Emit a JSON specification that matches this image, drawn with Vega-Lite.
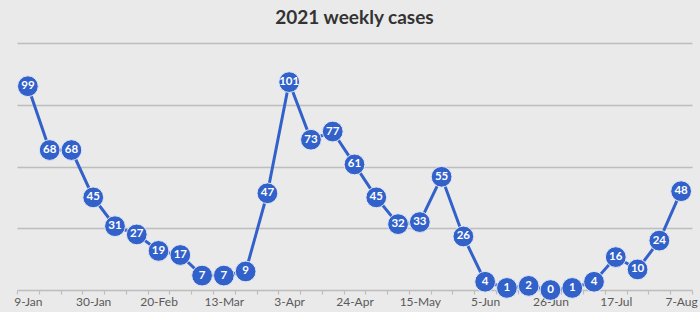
{
  "$schema": "https://vega.github.io/schema/vega-lite/v6.json",
  "width": 675,
  "height": 247,
  "autosize": {"type": "none"},
  "padding": {"left": 17, "top": 43, "right": 8, "bottom": 22},
  "background": "#eaeaea",
  "title": {
    "text": "2021 weekly cases",
    "anchor": "middle",
    "font": "Lato",
    "fontSize": 19,
    "fontWeight": "bold",
    "color": "#333333",
    "offset": 15
  },
  "config": {
    "view": {"stroke": null},
    "axis": {"labelFont": "Lato", "labelColor": "#595959", "labelFontSize": 12}
  },
  "data": {
    "values": [
      {"week": "9-Jan", "cases": 99},
      {"week": "16-Jan", "cases": 68},
      {"week": "23-Jan", "cases": 68},
      {"week": "30-Jan", "cases": 45},
      {"week": "6-Feb", "cases": 31},
      {"week": "13-Feb", "cases": 27},
      {"week": "20-Feb", "cases": 19},
      {"week": "27-Feb", "cases": 17},
      {"week": "6-Mar", "cases": 7},
      {"week": "13-Mar", "cases": 7},
      {"week": "20-Mar", "cases": 9},
      {"week": "27-Mar", "cases": 47},
      {"week": "3-Apr", "cases": 101},
      {"week": "10-Apr", "cases": 73},
      {"week": "17-Apr", "cases": 77},
      {"week": "24-Apr", "cases": 61},
      {"week": "1-May", "cases": 45},
      {"week": "8-May", "cases": 32},
      {"week": "15-May", "cases": 33},
      {"week": "22-May", "cases": 55},
      {"week": "29-May", "cases": 26},
      {"week": "5-Jun", "cases": 4},
      {"week": "12-Jun", "cases": 1},
      {"week": "19-Jun", "cases": 2},
      {"week": "26-Jun", "cases": 0},
      {"week": "3-Jul", "cases": 1},
      {"week": "10-Jul", "cases": 4},
      {"week": "17-Jul", "cases": 16},
      {"week": "24-Jul", "cases": 10},
      {"week": "31-Jul", "cases": 24},
      {"week": "7-Aug", "cases": 48}
    ]
  },
  "encoding": {
    "x": {
      "field": "week",
      "type": "ordinal",
      "sort": null,
      "bandPosition": 0.5,
      "scale": {"type": "band", "paddingInner": 0, "paddingOuter": 0},
      "axis": {
        "title": null,
        "labelAngle": 0,
        "tickBand": "extent",
        "domainColor": "#bdbdbd",
        "domainWidth": 1.5,
        "tickColor": "#bdbdbd",
        "tickWidth": 1.2,
        "tickSize": 4,
        "labelPadding": 2,
        "labelExpr": "indexof(['9-Jan','30-Jan','20-Feb','13-Mar','3-Apr','24-Apr','15-May','5-Jun','26-Jun','17-Jul','7-Aug'], datum.value) >= 0 ? datum.value : ''"
      }
    },
    "y": {
      "field": "cases",
      "type": "quantitative",
      "scale": {"domain": [0, 120]},
      "axis": {
        "title": null,
        "labels": false,
        "ticks": false,
        "domain": false,
        "values": [30, 60, 90, 120],
        "gridColor": "#bdbdbd",
        "gridWidth": 1.5
      }
    }
  },
  "layer": [
    {"mark": {"type": "line", "color": "#3261c9", "strokeWidth": 3}},
    {"mark": {"type": "circle", "size": 430, "color": "#3261c9", "opacity": 1, "stroke": "#dfe6f5", "strokeWidth": 1}},
    {
      "mark": {"type": "text", "color": "white", "font": "Lato", "fontWeight": "bold", "fontSize": 11.5, "baseline": "middle", "align": "center"},
      "encoding": {"text": {"field": "cases", "type": "quantitative"}}
    }
  ]
}
